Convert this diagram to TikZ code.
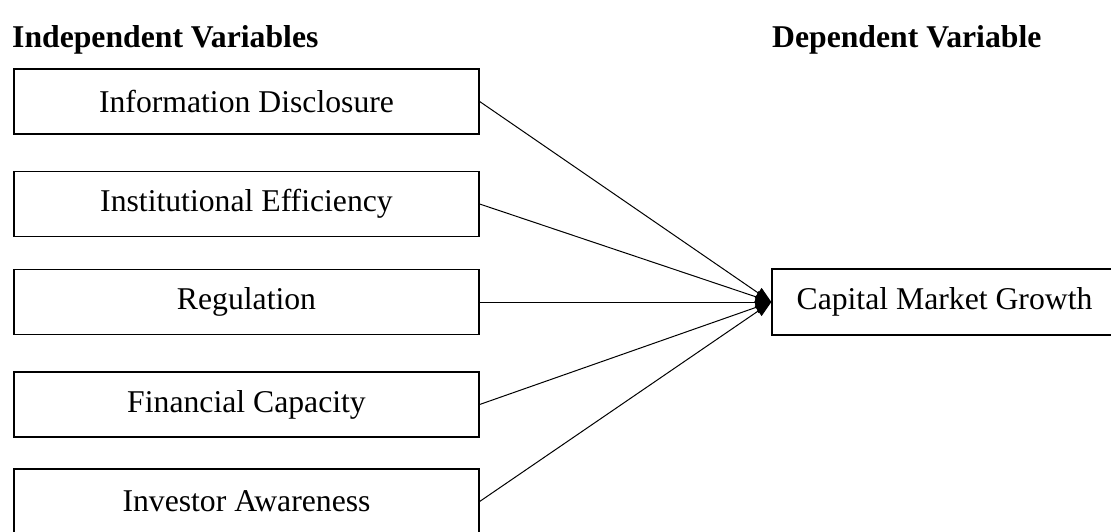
\documentclass[tikz,border=0pt]{standalone}
\usepackage{fontspec}
\setmainfont{Liberation Serif}
\usetikzlibrary{arrows.meta}
\tikzset{
  varbox/.style={draw=black, line width=1.3pt, minimum width=465pt, minimum height=65pt, inner sep=0pt, font=\fontsize{31.7}{38}\selectfont},
  heading/.style={anchor=base west, inner sep=0pt, font=\fontsize{31.7}{38}\selectfont\bfseries},
  link/.style={line width=1pt, -{Triangle[length=16pt, width=12pt]}}
}
\begin{document}
\begin{tikzpicture}[x=1pt, y=-1pt]
\useasboundingbox (0,0) rectangle (1111,532);
\node[heading] (hI) at (12,47.7) {Independent Variables};
\node[heading] (hD) at (772,47.7) {Dependent Variable};
\node[varbox] (b1) at (246.5,101.5) {Information Disclosure};
\node[varbox] (b2) at (246.5,204) {Institutional Efficiency};
\node[varbox] (b3) at (246.5,302) {Regulation};
\node[varbox] (b4) at (246.5,404.5) {Financial Capacity};
\node[varbox] (b5) at (246.5,501.5) {Investor Awareness};
\node[varbox, minimum width=345pt, minimum height=66pt] (cm) at (944.5,302) {Capital Market Growth};
\foreach \b in {b1,b2,b3,b4,b5} {
  \draw[link] (\b.east) -- (cm.west);
}
\end{tikzpicture}
\end{document}
